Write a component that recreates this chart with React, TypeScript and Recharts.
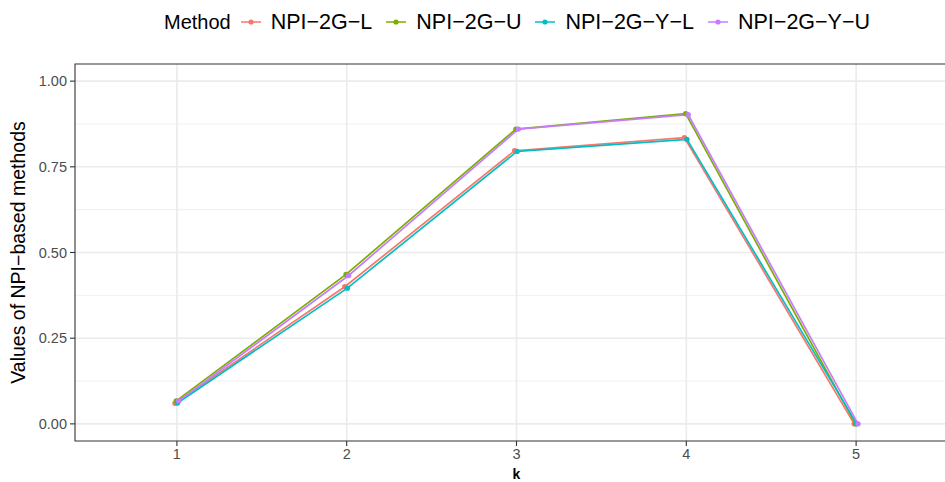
import React from "react";
import {
  LineChart,
  Line,
  XAxis,
  YAxis,
  CartesianGrid,
  ReferenceArea,
} from "recharts";

// k values on the x axis (discrete positions 1..5)
const kValues = [1, 2, 3, 4, 5];

// Series values per method, one per k
const npi2gL = [0.06, 0.4, 0.797, 0.835, 0];
const npi2gU = [0.067, 0.436, 0.86, 0.905, 0];
const npi2gYL = [0.061, 0.396, 0.795, 0.83, 0];
const npi2gYU = [0.067, 0.433, 0.86, 0.902, 0];

const methodNames = ["NPI\u22122G\u2212L", "NPI\u22122G\u2212U", "NPI\u22122G\u2212Y\u2212L", "NPI\u22122G\u2212Y\u2212U"];
const methodColors = ["#F8766D", "#7CAE00", "#00BFC4", "#C77CFF"];
const methodValues = [npi2gL, npi2gU, npi2gYL, npi2gYU];

// small dodge between the 4 methods, in x units
const dodgeWidth = 0.03;
const dodgeOffsets = [-1.5, -0.5, 0.5, 1.5].map((m) => (m * dodgeWidth) / 4);

const yTicks = [0, 0.25, 0.5, 0.75, 1];
const yMinor = [0.125, 0.375, 0.625, 0.875];
const xDomain: [number, number] = [0.4, 5.6];
const yDomain: [number, number] = [-0.05, 1.05];

const FONT = "'Liberation Sans', Arial, Helvetica, sans-serif";

const seriesData = methodValues.map((vals, s) =>
  kValues.map((k, i) => ({ x: k + dodgeOffsets[s], y: vals[i] }))
);

const LegendRow = () => (
  <div
    style={{
      position: "absolute",
      left: 164,
      top: 0,
      height: 44,
      display: "flex",
      alignItems: "center",
      fontFamily: FONT,
      color: "#000",
      whiteSpace: "nowrap",
    }}
  >
    <span style={{ fontSize: 20, marginRight: 8 }}>Method</span>
    {methodNames.map((name, i) => (
      <span
        key={name}
        style={{ display: "flex", alignItems: "center", marginRight: i < 3 ? 12 : 0 }}
      >
        <svg width={24} height={20} style={{ marginRight: 8 }}>
          <line x1={2} y1={10} x2={22} y2={10} stroke={methodColors[i]} strokeWidth={1.5} />
          <circle cx={12} cy={10} r={2.6} fill={methodColors[i]} />
        </svg>
        <span style={{ fontSize: 21.5 }}>{name}</span>
      </span>
    ))}
  </div>
);

export default function App() {
  return (
    <div
      style={{
        position: "absolute",
        left: 0,
        top: 0,
        width: 945,
        height: 482,
        overflow: "hidden",
        background: "#fff",
      }}
    >
      <LegendRow />
      <div style={{ position: "absolute", left: 0, top: 0 }}>
        <LineChart
          width={970}
          height={482}
          margin={{ top: 64, right: 12, bottom: 0, left: 0 }}
          style={{ fontFamily: FONT }}
        >
          <CartesianGrid
            horizontalValues={yMinor}
            vertical={false}
            stroke="#EBEBEB"
            strokeWidth={0.8}
          />
          <CartesianGrid
            horizontalValues={yTicks}
            verticalValues={kValues}
            stroke="#EBEBEB"
            strokeWidth={1.6}
          />
          <XAxis
            dataKey="x"
            type="number"
            domain={xDomain}
            ticks={kValues}
            allowDataOverflow
            height={41}
            axisLine={false}
            tickLine={{ stroke: "#333333", strokeWidth: 1.1 }}
            tickSize={5}
            tickMargin={3}
            tick={{ fill: "#4D4D4D", fontSize: 14.5, fontFamily: FONT }}
            label={{
              content: ({ viewBox }: any) => (
                <text
                  x={viewBox.x + viewBox.width / 2}
                  y={viewBox.y + 38}
                  textAnchor="middle"
                  fontFamily={FONT}
                  fontSize={14}
                  fontWeight="bold"
                  fill="#000"
                >
                  k
                </text>
              ),
            }}
          />
          <YAxis
            type="number"
            domain={yDomain}
            ticks={yTicks}
            allowDataOverflow
            width={75}
            axisLine={false}
            tickLine={{ stroke: "#333333", strokeWidth: 1.1 }}
            tickSize={5}
            tickMargin={3}
            tickFormatter={(v: number) => v.toFixed(2)}
            tick={{ fill: "#4D4D4D", fontSize: 14.5, fontFamily: FONT }}
            label={{
              content: ({ viewBox }: any) => {
                const cx = viewBox.x + 18;
                const cy = viewBox.y + viewBox.height / 2;
                return (
                  <text
                    x={cx}
                    y={cy}
                    transform={`rotate(-90 ${cx} ${cy})`}
                    textAnchor="middle"
                    dominantBaseline="central"
                    fontFamily={FONT}
                    fontSize={19.5}
                    fill="#000"
                  >
                    Values of NPI{"\u2212"}based methods
                  </text>
                );
              },
            }}
          />
          {methodNames.map((name, i) => (
            <Line
              key={name}
              name={name}
              data={seriesData[i]}
              dataKey="y"
              type="linear"
              stroke={methodColors[i]}
              strokeWidth={1.7}
              dot={{ r: 2.7, fill: methodColors[i], stroke: "none" }}
              activeDot={false}
              isAnimationActive={false}
            />
          ))}
          {/* panel border */}
          <ReferenceArea
            x1={xDomain[0]}
            x2={xDomain[1]}
            y1={yDomain[0]}
            y2={yDomain[1]}
            fill="none"
            fillOpacity={0}
            stroke="#333333"
            strokeWidth={1.1}
            ifOverflow="visible"
          />
        </LineChart>
      </div>
    </div>
  );
}
